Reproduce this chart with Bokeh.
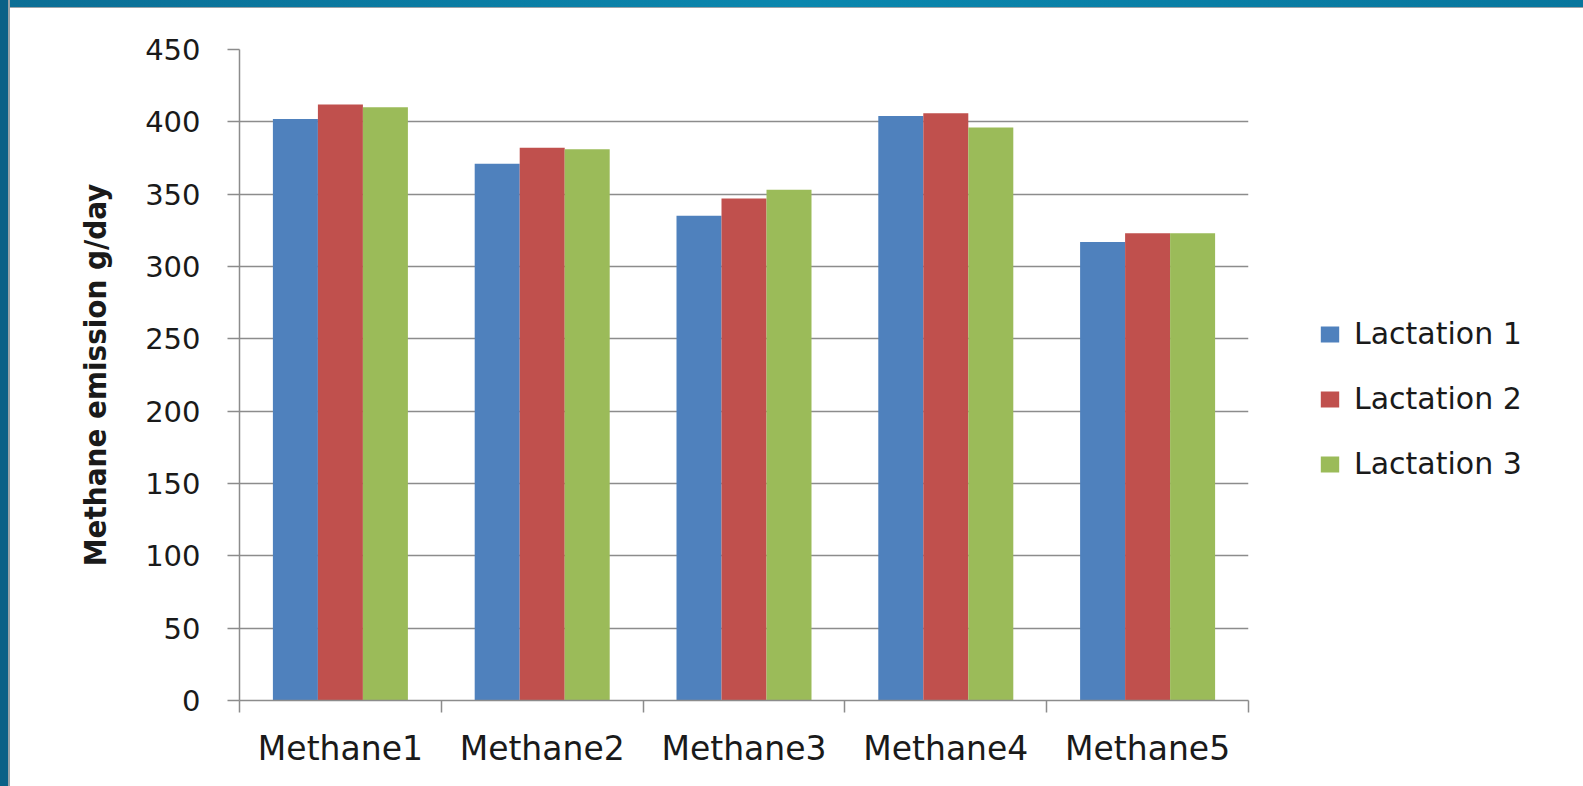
from bokeh.plotting import figure
from bokeh.models import (Range1d, FixedTicker, CustomJSTickFormatter, Legend,
                          LegendItem, Div)
from bokeh.layouts import row, column
from bokeh.embed import file_html
from bokeh.resources import INLINE

# ---- data ----
categories = ["Methane1", "Methane2", "Methane3", "Methane4", "Methane5"]
series_names = ["Lactation 1", "Lactation 2", "Lactation 3"]
lactation1 = [402, 371, 335, 404, 317]
lactation2 = [412, 382, 347, 406, 323]
lactation3 = [410, 381, 353, 396, 323]
y_ticks = [0, 50, 100, 150, 200, 250, 300, 350, 400, 450]
colors = ["#4F81BD", "#C0504D", "#9BBB59"]

GRAY = "#8c8c8c"
TEXT = "#1a1a1a"

n = len(categories)
all_series = [lactation1, lactation2, lactation3]

p = figure(width=1298, height=779,
           x_range=Range1d(0, n), y_range=Range1d(y_ticks[0], y_ticks[-1]),
           output_backend="svg", toolbar_location=None,
           min_border_left=229, min_border_right=60,
           min_border_top=41, min_border_bottom=87)
p.outline_line_color = None
p.background_fill_color = "white"
p.border_fill_color = "white"

bar_w = 0.223
offsets = [-bar_w, 0.0, bar_w]
for vals, off, col in zip(all_series, offsets, colors):
    xs = [i + 0.5 + off for i in range(n)]
    p.vbar(x=xs, top=vals, bottom=0, width=bar_w,
           fill_color=col, line_color=None)

# x axis: labels at category centres, ticks at category boundaries
p.xaxis.ticker = FixedTicker(ticks=[i + 0.5 for i in range(n)],
                             minor_ticks=[float(i) for i in range(n + 1)])
p.xaxis.formatter = CustomJSTickFormatter(args=dict(names=categories),
                                          code="return names[Math.floor(tick)];")
p.xaxis.major_tick_out = 0
p.xaxis.major_tick_in = 0
p.xaxis.minor_tick_out = 12
p.xaxis.minor_tick_in = 0
p.xaxis.minor_tick_line_color = GRAY
p.xaxis.minor_tick_line_width = 1.5
p.xaxis.axis_line_color = GRAY
p.xaxis.axis_line_width = 1.5
p.xaxis.major_label_text_font = "DejaVu Sans"
p.xaxis.major_label_text_font_size = "33px"
p.xaxis.major_label_text_color = TEXT
p.xaxis.major_label_standoff = 16

# y axis
p.yaxis.ticker = FixedTicker(ticks=y_ticks)
p.yaxis.major_tick_out = 12
p.yaxis.major_tick_in = 0
p.yaxis.minor_tick_out = 0
p.yaxis.minor_tick_in = 0
p.yaxis.major_tick_line_color = GRAY
p.yaxis.major_tick_line_width = 1.5
p.yaxis.axis_line_color = GRAY
p.yaxis.axis_line_width = 1.5
p.yaxis.major_label_text_font = "DejaVu Sans"
p.yaxis.major_label_text_font_size = "29px"
p.yaxis.major_label_text_color = TEXT
p.yaxis.major_label_standoff = 27
p.yaxis.axis_label = "Methane emission g/day"
p.yaxis.axis_label_text_font = "DejaVu Sans Condensed"
p.yaxis.axis_label_text_font_style = "bold"
p.yaxis.axis_label_text_font_size = "31px"
p.yaxis.axis_label_text_color = TEXT
p.yaxis.axis_label_standoff = 29

p.xgrid.visible = False
p.ygrid.grid_line_color = GRAY
p.ygrid.grid_line_width = 1.5

# legend lives in its own small figure to the right of the chart;
# its swatch renderers hold the same data but lie far outside that figure's view
lf = figure(width=275, height=779, output_backend="svg", toolbar_location=None,
            x_range=Range1d(-200, -199), y_range=Range1d(-5000, -4999),
            x_axis_location=None, y_axis_location=None, min_border=0)
lf.outline_line_color = None
lf.xgrid.visible = False
lf.ygrid.visible = False
swatches = [lf.vbar(x=list(range(n)), top=vals, bottom=0, width=0.1,
                    fill_color=col, line_color=None)
            for vals, col in zip(all_series, colors)]
legend = Legend(items=[LegendItem(label=s, renderers=[r])
                       for s, r in zip(series_names, swatches)],
                location=(10, 219), orientation="vertical",
                glyph_width=23, glyph_height=20, label_standoff=13,
                spacing=30, padding=0, margin=0,
                border_line_color=None, background_fill_alpha=0,
                label_text_font="DejaVu Sans", label_text_font_size="30px",
                label_text_color=TEXT)
lf.add_layout(legend)

left_strip = Div(width=10, height=786, margin=0,
                 styles={"background-color": "#0a6187",
                         "border-right": "2px solid #9aa3a8",
                         "box-sizing": "border-box"})
top_strip = Div(width=1573, height=8, margin=0,
                styles={"background": "linear-gradient(to right, #0b6e95, #0a87ae 50%, #08769d)",
                        "border-bottom": "1px solid #9aa3a8",
                        "box-sizing": "border-box"})
layout = row(left_strip, column(top_strip, row(p, lf, spacing=0), spacing=0), spacing=0)

open("out.html", "w").write(file_html(layout, INLINE))
